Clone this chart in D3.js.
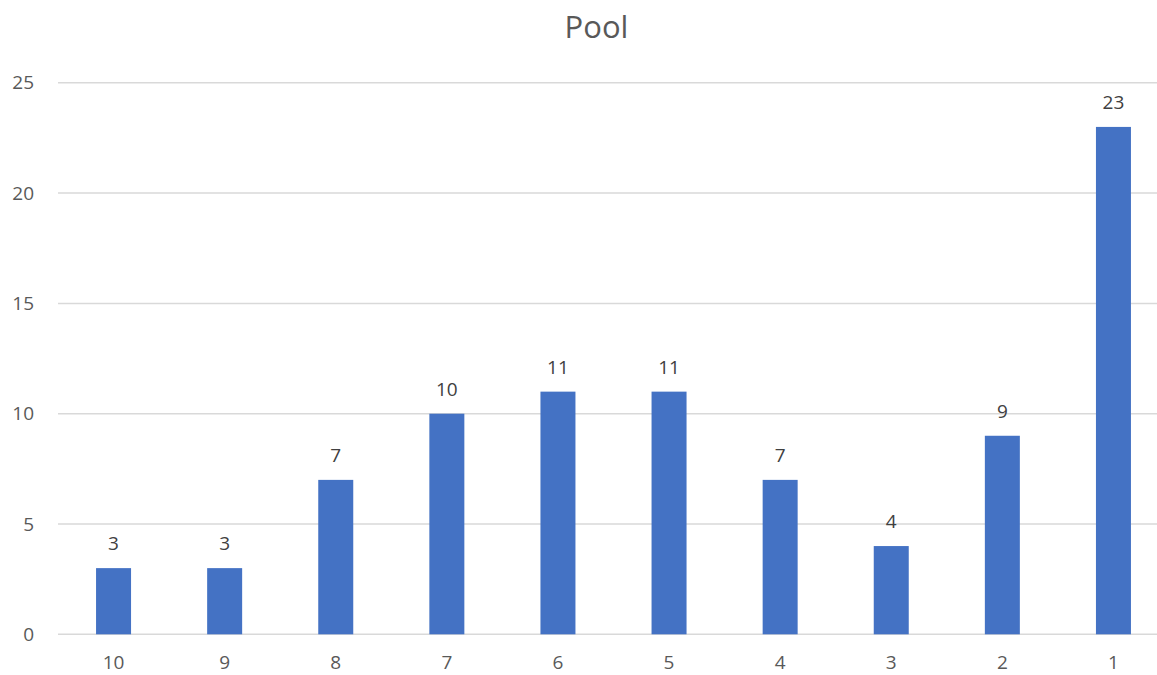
<!DOCTYPE html>
<html>
<head>
<meta charset="utf-8">
<script src="https://cdn.jsdelivr.net/npm/d3@7"></script>
<style>
  html, body { margin: 0; padding: 0; background: #fff; }
  svg { display: block; font-family: "Open Sans", "Liberation Sans", sans-serif; }
</style>
</head>
<body>
<svg id="chart" width="1157" height="675"></svg>
<script>
// Pool counts by rank
const categories = ["10", "9", "8", "7", "6", "5", "4", "3", "2", "1"];
const values = [3, 3, 7, 10, 11, 11, 7, 4, 9, 23];
const yTicks = [0, 5, 10, 15, 20, 25];
const title = "Pool";

const svg = d3.select("#chart");
const textColor = "#595959";

const x = d3.scaleBand()
  .domain(categories)
  .range([58, 1169])
  .paddingInner(0.685)
  .paddingOuter(0.3425);

const y = d3.scaleLinear()
  .domain([0, 25])
  .range([634.3, 82.8]);

// Horizontal gridlines
svg.append("g")
  .selectAll("line")
  .data(yTicks)
  .join("line")
  .attr("x1", 58)
  .attr("x2", 1169)
  .attr("y1", d => y(d))
  .attr("y2", d => y(d))
  .attr("stroke", "#d9d9d9")
  .attr("stroke-width", 1.5);

// Y axis labels
const yAxis = d3.axisLeft(y).tickValues(yTicks).tickSize(0).tickPadding(0);
svg.append("g")
  .attr("transform", "translate(34,0)")
  .call(yAxis)
  .call(g => g.select(".domain").remove())
  .call(g => g.selectAll("text")
    .attr("fill", textColor)
    .attr("font-size", 19)
    .attr("font-family", "'Open Sans', sans-serif"));

// X axis labels
const xAxis = d3.axisBottom(x).tickSize(0).tickPadding(0);
svg.append("g")
  .attr("transform", "translate(0,655)")
  .call(xAxis)
  .call(g => g.select(".domain").remove())
  .call(g => g.selectAll("text")
    .attr("fill", textColor)
    .attr("font-size", 19)
    .attr("font-family", "'Open Sans', sans-serif"));

// Bars
svg.append("g")
  .selectAll("rect")
  .data(values)
  .join("rect")
  .attr("x", (d, i) => x(categories[i]))
  .attr("width", x.bandwidth())
  .attr("y", d => y(d))
  .attr("height", d => y(0) - y(d))
  .attr("fill", "#4472C4");

// Value labels
svg.append("g")
  .selectAll("text")
  .data(values)
  .join("text")
  .attr("x", (d, i) => x(categories[i]) + x.bandwidth() / 2)
  .attr("y", d => y(d) - 18)
  .attr("text-anchor", "middle")
  .attr("fill", "#404040")
  .attr("font-size", 19)
  .text(d => d);

// Title
svg.append("text")
  .attr("x", 596.5)
  .attr("y", 38)
  .attr("text-anchor", "middle")
  .attr("fill", textColor)
  .attr("font-size", 31)
  .text(title);
</script>
</body>
</html>
